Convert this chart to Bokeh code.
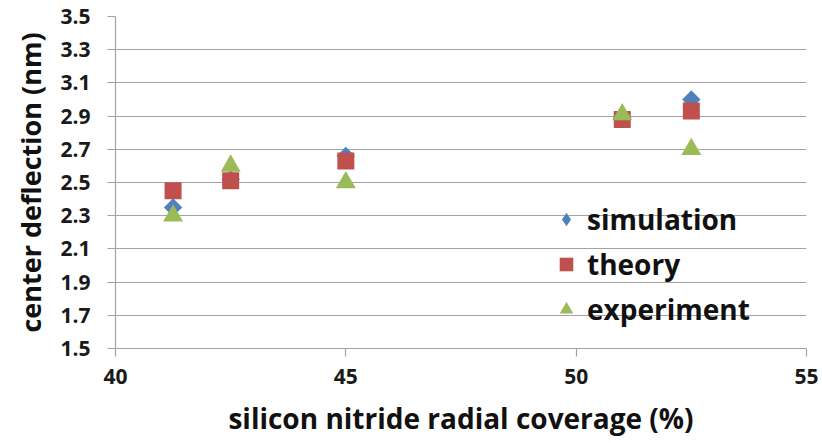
import math

from bokeh.core.properties import value
from bokeh.embed import file_html
from bokeh.models import FixedTicker, Legend, LegendItem, PrintfTickFormatter, Range1d
from bokeh.plotting import figure
from bokeh.resources import INLINE

# Silicon nitride radial coverage (%) of each membrane design
coverage = [41.25, 42.5, 45.0, 51.0, 52.5]

# Center deflection (nm) per method
simulation = [2.35, 2.52, 2.66, 2.89, 3.00]
theory = [2.45, 2.51, 2.63, 2.88, 2.93]
experiment = [2.30, 2.60, 2.50, 2.91, 2.70]

x_ticks = [40, 45, 50, 55]
y_ticks = [1.5, 1.7, 1.9, 2.1, 2.3, 2.5, 2.7, 2.9, 3.1, 3.3, 3.5]

FONT = "Open Sans"
GRID = "#a3a3a3"
BLUE, RED, GREEN = "#4F81BD", "#C0504D", "#9BBB59"

p = figure(
    width=822,
    height=443,
    x_range=Range1d(40, 55),
    y_range=Range1d(1.5, 3.5),
    output_backend="svg",
    toolbar_location=None,
    min_border_left=115,
    min_border_right=16,
    min_border_top=16,
    min_border_bottom=95,
)
p.outline_line_color = None
p.background_fill_color = "white"
p.border_fill_color = "white"

# Horizontal gridlines only
p.xgrid.visible = False
p.ygrid.grid_line_color = GRID
p.ygrid.grid_line_width = 1.2

for ax in (p.xaxis[0], p.yaxis[0]):
    ax.axis_line_color = GRID
    ax.axis_line_width = 1.2
    ax.major_tick_line_color = GRID
    ax.major_tick_line_width = 1.2
    ax.major_tick_in = 0
    ax.major_tick_out = 8
    ax.minor_tick_line_color = None
    ax.major_label_text_font = FONT
    ax.major_label_text_font_style = "bold"
    ax.major_label_text_font_size = "21px"
    ax.major_label_text_color = "#1a1a1a"
    ax.axis_label_text_font = FONT
    ax.axis_label_text_font_style = "bold"
    ax.axis_label_text_color = "#111111"

p.xaxis.axis_label_text_font_size = "28px"
p.yaxis.axis_label_text_font_size = "27px"

p.xaxis.ticker = FixedTicker(ticks=x_ticks)
p.yaxis.ticker = FixedTicker(ticks=y_ticks)
p.yaxis.formatter = PrintfTickFormatter(format="%.1f")
p.yaxis.major_label_standoff = 17
p.xaxis.major_label_standoff = 12
p.yaxis.axis_label_standoff = 8
p.xaxis.axis_label_standoff = 12

p.xaxis.axis_label = "silicon nitride radial coverage (%)"
p.yaxis.axis_label = "center deflection (nm)"

# Simulation points are drawn as squares turned 45 degrees (diamonds)
r_sim = p.scatter(coverage, simulation, marker="square", angle=math.pi / 4,
                  size=13, fill_color=BLUE, line_color=None)
r_th = p.scatter(coverage, theory, marker="square", size=17,
                 fill_color=RED, line_color=None)
r_exp = p.scatter(coverage, experiment, marker="triangle", size=20,
                  fill_color=GREEN, line_color=None)

# Legend swatch for simulation: legend glyphs ignore marker angle, so a
# hidden diamond renderer of the same series supplies the key symbol.
r_sim_key = p.scatter(coverage, simulation, marker="diamond", size=13,
                      fill_color=BLUE, line_color=None, visible=False)

legend = Legend(
    items=[
        LegendItem(label="simulation", renderers=[r_sim_key]),
        LegendItem(label="theory", renderers=[r_th]),
        LegendItem(label="experiment", renderers=[r_exp]),
    ],
    location=(434, 20),
    orientation="vertical",
    padding=0,
    margin=0,
    spacing=7,
    glyph_width=34,
    glyph_height=34,
    label_height=36,
    label_standoff=4,
    border_line_color=None,
    background_fill_alpha=0,
    inactive_fill_alpha=0,
    click_policy="none",
    label_text_font=FONT,
    label_text_font_style="bold",
    label_text_font_size="28px",
    label_text_color="#111111",
)
p.add_layout(legend)

open("out.html", "w").write(file_html(p, INLINE))
